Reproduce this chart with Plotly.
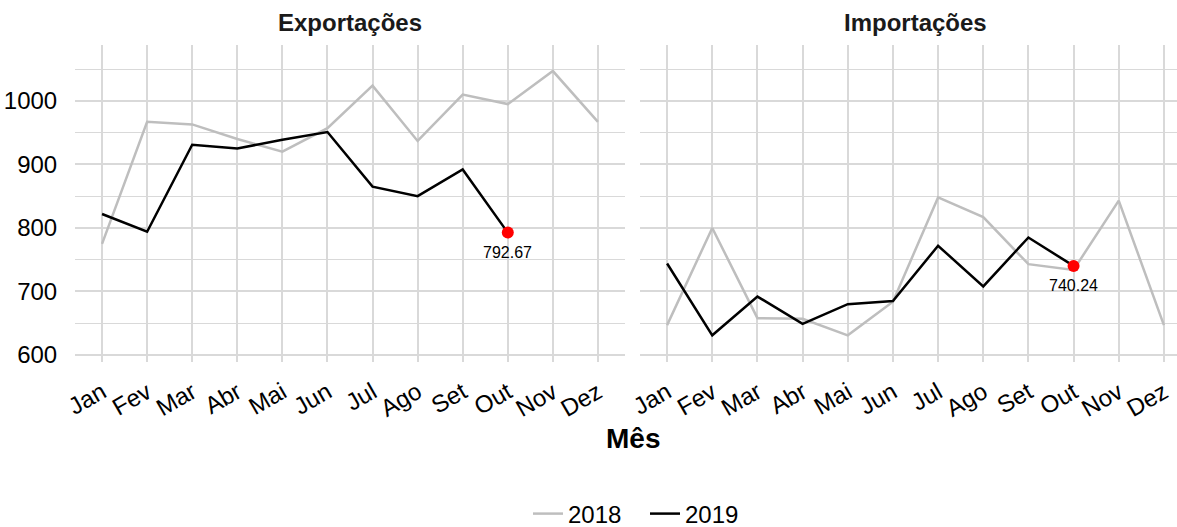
import plotly.graph_objects as go

months = ["Jan", "Fev", "Mar", "Abr", "Mai", "Jun", "Jul", "Ago", "Set", "Out", "Nov", "Dez"]
exp_2018 = [775, 967, 963, 940, 920, 957, 1024, 937, 1010, 995, 1047, 967]
exp_2019 = [822, 794, 931, 925, 939, 951, 865, 850, 892, 792.67]
imp_2018 = [647, 800, 658, 657, 631, 684, 848, 817, 743, 734, 843, 647]
imp_2019 = [744, 631, 692, 649, 680, 685, 772, 708, 785, 740.24]
panel_titles = ["Exportações", "Importações"]
y_ticks = [600, 700, 800, 900, 1000]

FONT = "Liberation Sans, Arial, sans-serif"
GRID = "#d9d9d9"
W, H = 1177, 527
ML, MR, MT, MB = 75, 0, 45, 165
PW = W - ML - MR
PH = H - MT - MB

def px_x(p):
    return (p - ML) / PW

def px_y(p):
    return (H - MB - p) / PH

fig = go.Figure()
x_idx = list(range(12))

panels = [(exp_2018, exp_2019, "x", "y"), (imp_2018, imp_2019, "x2", "y2")]
for i, (s18, s19, xa, ya) in enumerate(panels):
    fig.add_trace(go.Scatter(x=x_idx[:len(s18)], y=s18, mode="lines", name="2018",
                             line=dict(color="#bebebe", width=2.5), xaxis=xa, yaxis=ya,
                             showlegend=(i == 0), legendgroup="2018"))
    fig.add_trace(go.Scatter(x=x_idx[:len(s19)], y=s19, mode="lines", name="2019",
                             line=dict(color="#000000", width=2.5), xaxis=xa, yaxis=ya,
                             showlegend=(i == 0), legendgroup="2019"))
    last = len(s19) - 1
    fig.add_trace(go.Scatter(x=[last], y=[s19[last]], mode="markers",
                             marker=dict(color="#ff0000", size=12), xaxis=xa, yaxis=ya,
                             showlegend=False, hoverinfo="skip"))
    fig.add_annotation(x=last, y=s19[last], xref=xa, yref=ya, text=f"{s19[last]:.2f}",
                       showarrow=False, yshift=-20, font=dict(family=FONT, size=16, color="#000000"))

axis_common = dict(
    tickmode="array", tickvals=x_idx, ticktext=months, tickangle=-30,
    showgrid=True, gridcolor=GRID, gridwidth=2, zeroline=False, showline=False,
    ticks="outside", ticklen=6, tickcolor="rgba(0,0,0,0)",
    tickfont=dict(family=FONT, size=24, color="#000000"),
)
fig.update_layout(
    width=W, height=H,
    margin=dict(l=ML, r=MR, t=MT, b=MB, pad=0, autoexpand=False),
    plot_bgcolor="white", paper_bgcolor="white",
    font=dict(family=FONT, size=24, color="#000000"),
    xaxis=dict(domain=[px_x(75), px_x(625)], range=[-0.6, 11.6], anchor="y", **axis_common),
    xaxis2=dict(domain=[px_x(640), 1.0], range=[-0.6, 11.29], anchor="y2", **axis_common),
    yaxis=dict(range=[589, 1088], tickvals=y_ticks, showgrid=True, gridcolor=GRID, gridwidth=2,
               zeroline=False, showline=False, ticks="outside", ticklen=12, tickcolor="rgba(0,0,0,0)",
               tickfont=dict(family=FONT, size=24, color="#000000"),
               minor=dict(dtick=50, tick0=0, showgrid=True, gridcolor=GRID, gridwidth=1),
               anchor="x"),
    yaxis2=dict(range=[589, 1088], tickvals=y_ticks, showgrid=True, gridcolor=GRID, gridwidth=2,
                zeroline=False, showline=False, showticklabels=False, matches="y",
                minor=dict(dtick=50, tick0=0, showgrid=True, gridcolor=GRID, gridwidth=1),
                anchor="x2"),
    legend=dict(orientation="h", x=px_x(528), y=px_y(514), xanchor="left", yanchor="middle",
                entrywidth=72, entrywidthmode="pixels",
                font=dict(family=FONT, size=24, color="#000000"), bgcolor="rgba(0,0,0,0)"),
    showlegend=True,
)

centers = [(75 + 625) / 2, (640 + 1191) / 2]
for title, c in zip(panel_titles, centers):
    fig.add_annotation(x=px_x(c), y=px_y(22), xref="paper", yref="paper", text=f"<b>{title}</b>",
                       showarrow=False, xanchor="center", yanchor="middle",
                       font=dict(family=FONT, size=24, color="#1a1a1a"))

fig.add_annotation(x=px_x(633), y=px_y(438), xref="paper", yref="paper", text="<b>Mês</b>",
                   showarrow=False, xanchor="center", yanchor="middle",
                   font=dict(family=FONT, size=28, color="#000000"))

fig.write_html("out.html", config={"displayModeBar": False},
               post_script="document.body.style.margin='0';")
